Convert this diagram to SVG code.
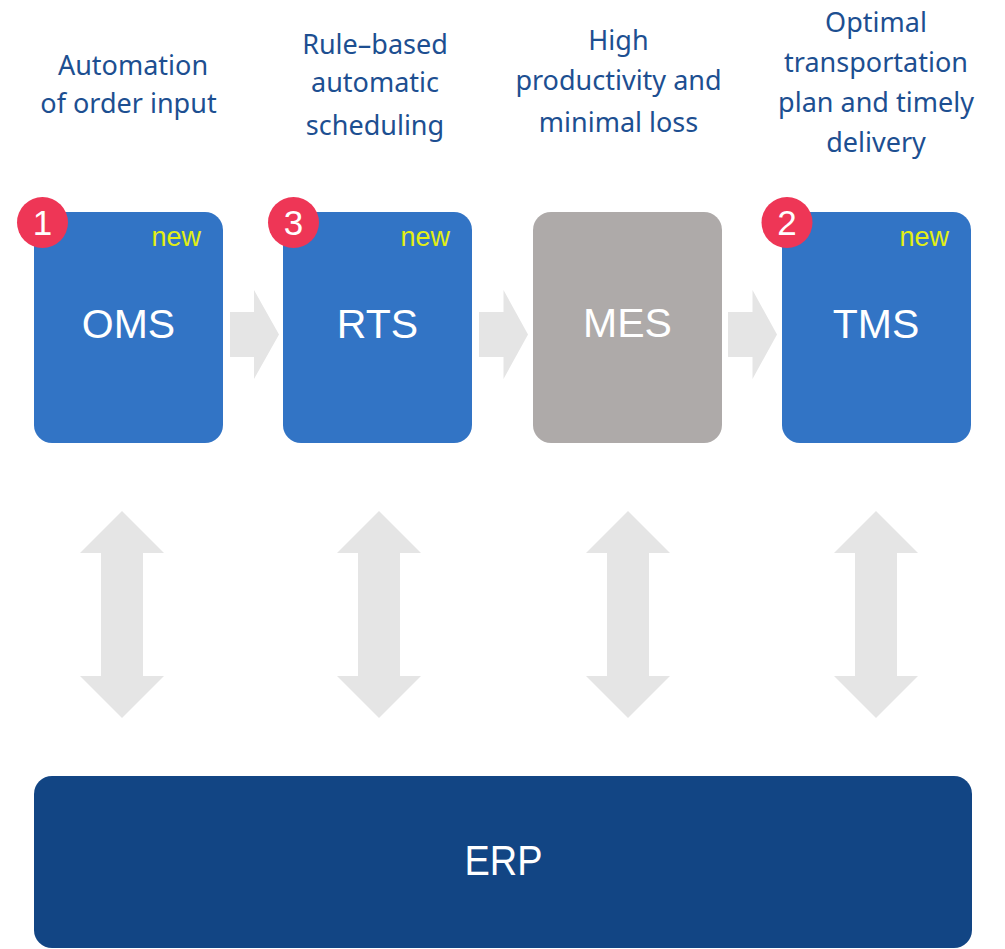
<svg xmlns="http://www.w3.org/2000/svg" width="1005" height="949" viewBox="0 0 1005 949">
<defs>
<style>
.cap{font-family:"Noto Sans","Liberation Sans",sans-serif;font-size:27px;fill:#1d4f91;text-anchor:middle}
.box{fill:#3274c5}
.lbl{font-family:"Liberation Sans",Arial,sans-serif;font-size:41px;fill:#ffffff;text-anchor:middle}
.new{font-family:"Liberation Sans",Arial,sans-serif;font-size:27px;fill:#e3ef14;text-anchor:end}
.badge{fill:#ee3656}
.num{font-family:"Liberation Sans",Arial,sans-serif;font-size:35px;fill:#ffffff;text-anchor:middle}
.arr{fill:#e5e5e5}
</style>
</defs>
<rect width="1005" height="949" fill="#ffffff"/>

<g id="captions">
<text class="cap" x="133" y="75">Automation</text>
<text class="cap" x="128.5" y="113">of order input</text>
<text class="cap" x="375" y="54">Rule–based</text>
<text class="cap" x="375" y="92">automatic</text>
<text class="cap" x="375" y="135">scheduling</text>
<text class="cap" x="618.5" y="50">High</text>
<text class="cap" x="618.5" y="90">productivity and</text>
<text class="cap" x="618.5" y="132">minimal loss</text>
<text class="cap" x="876" y="32">Optimal</text>
<text class="cap" x="876" y="72">transportation</text>
<text class="cap" x="876" y="112">plan and timely</text>
<text class="cap" x="876" y="152">delivery</text>
</g>

<g id="connectors">
<path class="arr" d="M230,312 H254 V290 L279,334.5 L254,379 V357 H230 Z"/>
<path class="arr" d="M479,312 H503.5 V290 L528,334.5 L503.5,379 V357 H479 Z"/>
<path class="arr" d="M728,312 H752.5 V290 L777,334.5 L752.5,379 V357 H728 Z"/>
<path class="arr" d="M122,511 L164,553 H143 V676 H164 L122,718 L80,676 H101 V553 H80 Z"/>
<path class="arr" d="M379,511 L421,553 H400 V676 H421 L379,718 L337,676 H358 V553 H337 Z"/>
<path class="arr" d="M628,511 L670,553 H649 V676 H670 L628,718 L586,676 H607 V553 H586 Z"/>
<path class="arr" d="M876,511 L918,553 H897 V676 H918 L876,718 L834,676 H855 V553 H834 Z"/>
</g>

<g id="oms">
<rect class="box" x="34" y="212" width="189" height="231" rx="18"/>
<circle class="badge" cx="42.5" cy="222.5" r="25.5"/>
<text class="num" x="42.5" y="235">1</text>
<text class="new" x="201" y="246">new</text>
<text class="lbl" x="128.5" y="338">OMS</text>
</g>

<g id="rts">
<rect class="box" x="283" y="212" width="189" height="231" rx="18"/>
<circle class="badge" cx="293.5" cy="222.5" r="25.5"/>
<text class="num" x="293.5" y="235">3</text>
<text class="new" x="450" y="246">new</text>
<text class="lbl" x="377.5" y="338">RTS</text>
</g>

<g id="mes">
<rect x="533" y="212" width="189" height="231" rx="18" fill="#aeaaa9"/>
<text class="lbl" x="627.5" y="337">MES</text>
</g>

<g id="tms">
<rect class="box" x="782" y="212" width="189" height="231" rx="18"/>
<circle class="badge" cx="787" cy="222.5" r="25.5"/>
<text class="num" x="787" y="235">2</text>
<text class="new" x="949" y="246">new</text>
<text class="lbl" x="876" y="338">TMS</text>
</g>

<g id="erp">
<rect x="34" y="776" width="938" height="172" rx="18" fill="#124584"/>
<text class="lbl" x="503.5" y="875" style="font-size:43px" textLength="78" lengthAdjust="spacingAndGlyphs">ERP</text>
</g>
</svg>
